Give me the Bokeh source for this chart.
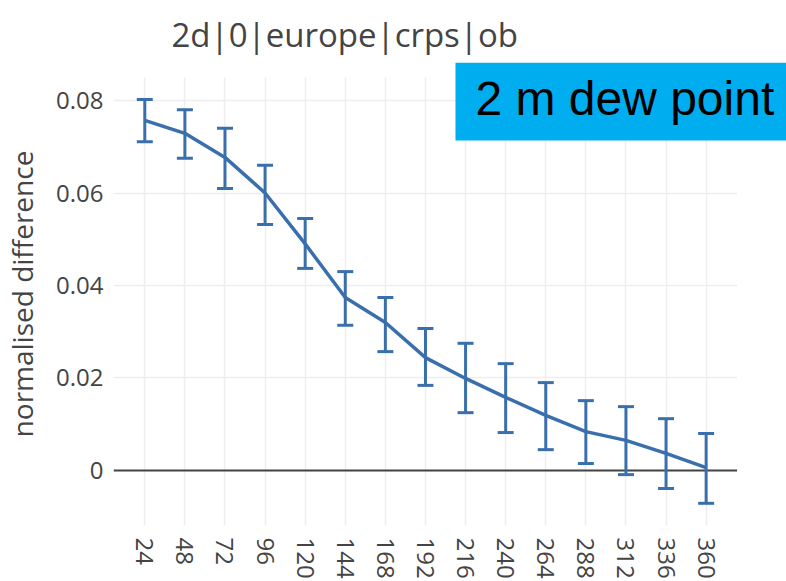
import math
from bokeh.plotting import figure
from bokeh.models import (ColumnDataSource, Whisker, TeeHead, FixedTicker, Range1d,
                          Label, Span, BoxAnnotation)
from bokeh.embed import file_html
from bokeh.resources import INLINE

# ---- data ----
lead_hours = [24, 48, 72, 96, 120, 144, 168, 192, 216, 240, 264, 288, 312, 336, 360]
norm_diff = [0.0757, 0.0729, 0.0677, 0.0600, 0.0490, 0.0374, 0.0320, 0.0244,
             0.0199, 0.0158, 0.0119, 0.0084, 0.0065, 0.0037, 0.0006]
err_upper = [0.0802, 0.0780, 0.0740, 0.0660, 0.0545, 0.0430, 0.0374, 0.0307,
             0.0275, 0.0231, 0.0190, 0.0151, 0.0138, 0.0112, 0.0080]
err_lower = [0.0711, 0.0675, 0.0610, 0.0532, 0.0437, 0.0314, 0.0257, 0.0184,
             0.0125, 0.0082, 0.0045, 0.0015, -0.0009, -0.0039, -0.0071]
y_ticks = [0, 0.02, 0.04, 0.06, 0.08]
y_tick_labels = ["0", "0.02", "0.04", "0.06", "0.08"]
title_text = "2d|0|europe|crps|ob"
y_label = "normalised difference"
box_text = "2 m dew point"

LINE = "#3a6fad"
TXT = "#444444"
X_END = 378.5    # right end of the data area
Y_TOP = 0.085    # top of the data area

src = ColumnDataSource(dict(x=lead_hours, y=norm_diff, upper=err_upper, lower=err_lower))

p = figure(width=786, height=581, output_backend="svg", toolbar_location=None,
           x_range=Range1d(5.27, 408.1), y_range=Range1d(-0.0119, 0.08822),
           min_border_left=113, min_border_right=0, min_border_top=62,
           min_border_bottom=40)
p.outline_line_color = None

p.title.text = title_text
p.title.text_font = "Open Sans"
p.title.text_font_size = "33px"
p.title.text_font_style = "normal"
p.title.text_color = TXT
p.title.align = "left"
p.title.vertical_align = "top"
p.title.offset = 58
p.title.standoff = 8

# grids
p.xgrid.grid_line_color = "#eeeeee"
p.ygrid.grid_line_color = "#eeeeee"
p.xgrid.grid_line_width = 1.5
p.ygrid.grid_line_width = 1.5
p.xaxis.ticker = FixedTicker(ticks=lead_hours)
p.yaxis.ticker = FixedTicker(ticks=y_ticks)
p.yaxis.major_label_overrides = {t: l for t, l in zip(y_ticks, y_tick_labels)}

for ax in (p.xaxis[0], p.yaxis[0]):
    ax.axis_line_color = None
    ax.major_tick_line_color = None
    ax.minor_tick_line_color = None
    ax.major_label_text_font = "Open Sans"
    ax.major_label_text_font_size = "24px"
    ax.major_label_text_color = TXT
p.xaxis.major_label_orientation = -math.pi / 2
p.xaxis.major_label_standoff = 6
p.yaxis.major_label_standoff = 4
p.yaxis.axis_label = y_label
p.yaxis.axis_label_text_font = "Open Sans"
p.yaxis.axis_label_text_font_size = "28px"
p.yaxis.axis_label_text_font_style = "normal"
p.yaxis.axis_label_text_color = TXT
p.yaxis.axis_label_standoff = 12

# zero line (under the blank margins)
p.add_layout(Span(location=0, dimension="width", line_color="#444444",
                  line_width=2, level="underlay"))
# blank areas outside the data region (right and top strips)
p.add_layout(BoxAnnotation(left=X_END, fill_color="white", fill_alpha=1.0,
                           line_color=None, level="underlay"))
p.add_layout(BoxAnnotation(bottom=Y_TOP, fill_color="white", fill_alpha=1.0,
                           line_color=None, level="underlay"))

# series
p.line("x", "y", source=src, line_color=LINE, line_width=3.5)
w = Whisker(base="x", upper="upper", lower="lower", source=src,
            line_color=LINE, line_width=3,
            upper_head=TeeHead(size=16, line_color=LINE, line_width=3),
            lower_head=TeeHead(size=16, line_color=LINE, line_width=3))
p.add_layout(w)

# highlighted label box
p.add_layout(BoxAnnotation(left=209.97, bottom=0.07135, fill_color="#00aeef",
                           fill_alpha=1.0, line_color=None))
lbl = Label(x=221.9, y=0.0804, text=box_text, text_font="Liberation Sans",
            text_font_size="48px", text_color="black", text_baseline="alphabetic")
p.add_layout(lbl)

open("out.html", "w").write(file_html(p, INLINE))
